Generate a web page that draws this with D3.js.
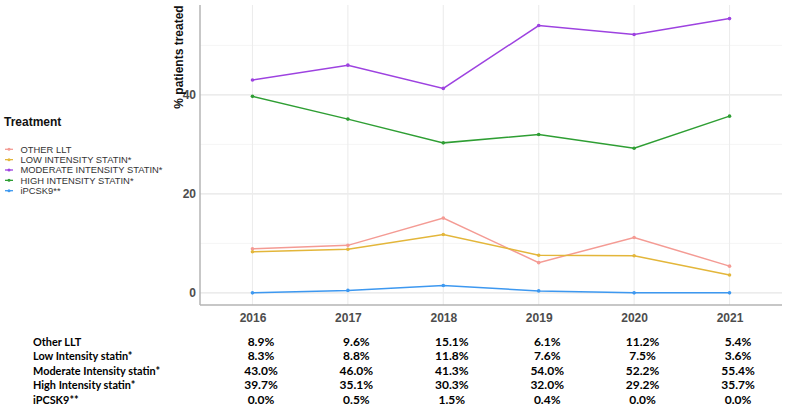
<!DOCTYPE html>
<html>
<head>
<meta charset="utf-8">
<script src="https://cdn.jsdelivr.net/npm/d3@7"></script>
<style>
  body { margin: 0; background: #fff; }
  svg { display: block; }
</style>
</head>
<body>
<svg id="chart" width="790" height="410"></svg>
<script>
const years = [2016, 2017, 2018, 2019, 2020, 2021];
const legendLabels = ["OTHER LLT", "LOW INTENSITY STATIN*", "MODERATE INTENSITY STATIN*", "HIGH INTENSITY STATIN*", "iPCSK9**"];
const tableLabels = ["Other LLT", "Low Intensity statin*", "Moderate Intensity statin*", "High Intensity statin*", "iPCSK9**"];
const otherLLT = [8.9, 9.6, 15.1, 6.1, 11.2, 5.4];
const lowStatin = [8.3, 8.8, 11.8, 7.6, 7.5, 3.6];
const moderateStatin = [43.0, 46.0, 41.3, 54.0, 52.2, 55.4];
const highStatin = [39.7, 35.1, 30.3, 32.0, 29.2, 35.7];
const ipcsk9 = [0.0, 0.5, 1.5, 0.4, 0.0, 0.0];
const yTicks = [0, 20, 40];
const yMinor = [10, 30, 50];
const colors = ["#F49B94", "#E3B63A", "#9D42E0", "#2E9E33", "#3D98F0"];

const seriesValues = [otherLLT, lowStatin, moderateStatin, highStatin, ipcsk9];
const series = seriesValues.map((vals, i) => ({
  label: legendLabels[i], table: tableLabels[i], color: colors[i],
  values: vals.map((v, j) => ({ year: years[j], v }))
}));

const svg = d3.select("#chart");
const pLeft = 200, pRight = 782, pTop = 5, pBottom = 305;

const x = d3.scaleLinear().domain([2015.45, 2021.55]).range([pLeft, pRight]);
const y = d3.scaleLinear().domain([-2.45, 58.15]).range([pBottom, pTop]);

// grid
const g = svg.append("g");
g.selectAll(".ymin").data(yMinor).join("line")
  .attr("x1", pLeft).attr("x2", pRight)
  .attr("y1", d => y(d)).attr("y2", d => y(d))
  .attr("stroke", "#f2f2f2").attr("stroke-width", 0.8);
g.selectAll(".ymaj").data(yTicks).join("line")
  .attr("x1", pLeft).attr("x2", pRight)
  .attr("y1", d => y(d)).attr("y2", d => y(d))
  .attr("stroke", "#e6e6e6").attr("stroke-width", 1.1);
g.selectAll(".xmaj").data(years).join("line")
  .attr("x1", d => x(d)).attr("x2", d => x(d))
  .attr("y1", pTop).attr("y2", pBottom)
  .attr("stroke", "#ececec").attr("stroke-width", 1.1);

// axes
const xAxis = svg.append("g").attr("transform", `translate(0,${pBottom})`)
  .call(d3.axisBottom(x).tickValues(years).tickFormat(d3.format("d")).tickSize(0).tickPadding(8));
const yAxis = svg.append("g").attr("transform", `translate(${pLeft},0)`)
  .call(d3.axisLeft(y).tickValues(yTicks).tickSize(0).tickPadding(4));
[xAxis, yAxis].forEach(a => {
  a.select(".domain").attr("stroke", "#b5b5b5").attr("stroke-width", 1.5);
  a.selectAll("text").attr("fill", "#4d4d4d")
    .style("font-family", "Liberation Sans, Arial, sans-serif")
    .style("font-size", "12px").style("font-weight", "bold");
});
yAxis.select(".domain").attr("d", `M0,${pTop}V${pBottom}`);
xAxis.select(".domain").attr("d", `M${pLeft},0H${pRight}`);

// y title
svg.append("text")
  .attr("transform", "translate(183,57) rotate(-90)")
  .attr("text-anchor", "middle")
  .style("font-family", "Liberation Sans, Arial, sans-serif")
  .style("font-size", "12px").style("font-weight", "bold")
  .attr("fill", "#111").text("% patients treated");

// lines
const line = d3.line().x(d => x(d.year)).y(d => y(d.v));
const sg = svg.append("g").selectAll("g").data(series).join("g");
sg.append("path").attr("d", d => line(d.values))
  .attr("fill", "none").attr("stroke", d => d.color).attr("stroke-width", 1.5);
sg.selectAll("circle").data(d => d.values.map(p => ({ ...p, color: d.color }))).join("circle")
  .attr("cx", d => x(d.year)).attr("cy", d => y(d.v)).attr("r", 1.8)
  .attr("fill", d => d.color);

// legend
svg.append("text").attr("x", 4).attr("y", 126)
  .style("font-family", "Liberation Sans, Arial, sans-serif")
  .style("font-size", "12px").style("font-weight", "bold")
  .attr("fill", "#111").text("Treatment");
const lg = svg.append("g").selectAll("g").data(series).join("g")
  .attr("transform", (d, i) => `translate(0,${149.3 + i * 10.35})`);
lg.append("line").attr("x1", 5).attr("x2", 13).attr("stroke", d => d.color).attr("stroke-width", 1.3);
lg.append("circle").attr("cx", 9).attr("r", 1.5).attr("fill", d => d.color);
lg.append("text").attr("x", 20.5).attr("y", 3.4)
  .style("font-family", "Liberation Sans, Arial, sans-serif")
  .style("font-size", "9.4px").attr("fill", "#333").text(d => d.label);

// table
const tfont = "Lato, 'Open Sans', sans-serif";
const rows = svg.append("g").selectAll("g").data(series).join("g")
  .attr("transform", (d, i) => `translate(0,${346 + i * 14.4})`);
rows.append("text")
  .attr("transform", "translate(33,0) scale(0.94,1)")
  .style("font-family", tfont).style("font-size", "11.6px").style("font-weight", "bold")
  .attr("fill", "#000").text(d => d.table);
rows.selectAll(".val").data(d => d.values).join("text")
  .attr("x", d => x(d.year) + 8.5).attr("text-anchor", "middle")
  .style("font-family", tfont).style("font-size", "12px").style("font-weight", "bold")
  .attr("fill", "#000").text(d => d.v.toFixed(1) + "%");
</script>
</body>
</html>
